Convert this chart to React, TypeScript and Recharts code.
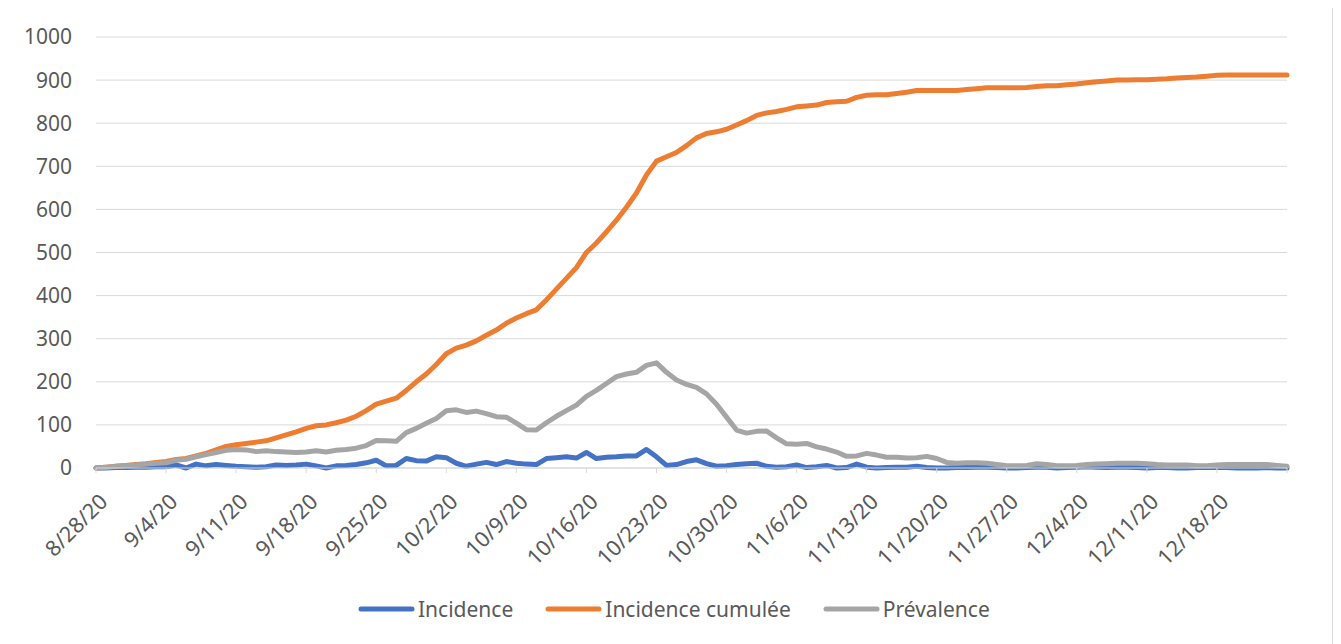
import { LineChart, Line, XAxis, YAxis, CartesianGrid, Legend } from 'recharts';

// Dates (one point per day)
const dates: string[] = [
  '8/28/20', '8/29/20', '8/30/20', '8/31/20',
  '9/1/20', '9/2/20', '9/3/20', '9/4/20', '9/5/20', '9/6/20', '9/7/20', '9/8/20', '9/9/20', '9/10/20',
  '9/11/20', '9/12/20', '9/13/20', '9/14/20', '9/15/20', '9/16/20', '9/17/20', '9/18/20', '9/19/20', '9/20/20',
  '9/21/20', '9/22/20', '9/23/20', '9/24/20', '9/25/20', '9/26/20', '9/27/20', '9/28/20', '9/29/20', '9/30/20',
  '10/1/20', '10/2/20', '10/3/20', '10/4/20', '10/5/20', '10/6/20', '10/7/20', '10/8/20', '10/9/20', '10/10/20',
  '10/11/20', '10/12/20', '10/13/20', '10/14/20', '10/15/20', '10/16/20', '10/17/20', '10/18/20', '10/19/20', '10/20/20',
  '10/21/20', '10/22/20', '10/23/20', '10/24/20', '10/25/20', '10/26/20', '10/27/20', '10/28/20', '10/29/20', '10/30/20',
  '10/31/20',
  '11/1/20', '11/2/20', '11/3/20', '11/4/20', '11/5/20', '11/6/20', '11/7/20', '11/8/20', '11/9/20', '11/10/20',
  '11/11/20', '11/12/20', '11/13/20', '11/14/20', '11/15/20', '11/16/20', '11/17/20', '11/18/20', '11/19/20', '11/20/20',
  '11/21/20', '11/22/20', '11/23/20', '11/24/20', '11/25/20', '11/26/20', '11/27/20', '11/28/20', '11/29/20', '11/30/20',
  '12/1/20', '12/2/20', '12/3/20', '12/4/20', '12/5/20', '12/6/20', '12/7/20', '12/8/20', '12/9/20', '12/10/20',
  '12/11/20', '12/12/20', '12/13/20', '12/14/20', '12/15/20', '12/16/20', '12/17/20', '12/18/20', '12/19/20', '12/20/20',
  '12/21/20', '12/22/20', '12/23/20', '12/24/20', '12/25/20',
];

const incidence: number[] = [
  0, 0, 1, 1, 2, 2, 3, 3, 7, 0,
  9, 5, 8, 6, 4, 3, 2, 3, 7, 6,
  7, 9, 5, 0, 5, 6, 8, 12, 18, 5,
  6, 22, 17, 16, 26, 24, 11, 4, 9, 13,
  8, 15, 11, 9, 8, 22, 24, 26, 23, 36,
  22, 25, 26, 28, 28, 43, 26, 6, 8, 15,
  19, 10, 4, 5, 8, 10, 11, 4, 2, 3,
  7, 1, 3, 6, 0, 1, 9, 2, 0, 1,
  2, 2, 4, 1, 0, 0, 1, 1, 2, 2,
  1, 0, 0, 1, 2, 2, 0, 1, 2, 3,
  2, 1, 2, 2, 1, 0, 1, 1, 0, 0,
  1, 1, 2, 1, 0, 0, 0, 1, 0, 0,
];

const incidenceCumulee: number[] = [
  0, 2, 4, 6, 8, 10, 13, 15, 20, 22,
  28, 34, 42, 50, 54, 57, 60, 63, 70, 77,
  84, 92, 98, 100, 105, 111, 120, 133, 148, 155,
  162, 180, 200, 218, 240, 265, 278, 285, 295, 308,
  320, 336, 348, 358, 367, 390, 415, 440, 465, 500,
  522, 548, 575, 605, 638, 680, 712, 722, 732, 748,
  766, 776, 780, 786, 796, 806, 818, 824, 827, 832,
  838, 840, 842, 848, 850, 851, 860, 865, 866, 866,
  869, 872, 876, 876, 876, 876, 876, 878, 880, 882,
  882, 882, 882, 883, 885, 887, 887, 889, 891, 894,
  896, 898, 900, 900, 901, 901, 902, 903, 905, 906,
  907, 909, 911, 912, 912, 912, 912, 912, 912, 912,
];

const prevalence: number[] = [
  0, 2, 4, 6, 7, 9, 11, 12, 18, 20,
  26, 31, 36, 41, 43, 42, 38, 40, 38, 37,
  36, 37, 40, 37, 41, 43, 46, 52, 64, 63,
  62, 82, 92, 104, 115, 133, 135, 129, 132, 126,
  119, 118, 104, 89, 88, 105, 120, 133, 146, 166,
  180, 196, 212, 218, 222, 238, 244, 222, 204, 194,
  187, 172, 148, 118, 88, 81, 85, 86, 70, 56,
  55, 57, 49, 44, 37, 27, 28, 34, 30, 25,
  25, 23, 24, 27, 22, 13, 11, 12, 12, 11,
  8, 5, 5, 6, 10, 8, 5, 5, 6, 8,
  9, 10, 11, 11, 11, 10, 8, 7, 7, 7,
  5, 5, 7, 8, 8, 8, 8, 8, 6, 4,
];

// labelled ticks, plus a bare tick mark at the end of the axis
const tickLabels: string[] = [
  '8/28/20', '9/4/20', '9/11/20', '9/18/20', '9/25/20', '10/2/20', '10/9/20', '10/16/20', '10/23/20',
  '10/30/20', '11/6/20', '11/13/20', '11/20/20', '11/27/20', '12/4/20', '12/11/20', '12/18/20',
];
const axisEnd = '12/25/20';
const yTicks: number[] = [0, 100, 200, 300, 400, 500, 600, 700, 800, 900, 1000];

const series = [
  { key: 'incidence', name: 'Incidence', color: '#4472C4' },
  { key: 'cumulee', name: 'Incidence cumulée', color: '#ED7D31' },
  { key: 'prevalence', name: 'Prévalence', color: '#A5A5A5' },
];

const data = dates.map((date, i) => ({
  date,
  incidence: incidence[i],
  cumulee: incidenceCumulee[i],
  prevalence: prevalence[i],
}));

const TEXT = '#595959';
const GRID = '#d9d9d9';

function DateTick({ x, y, payload }: any) {
  if (!tickLabels.includes(payload.value)) return <g />;
  const tx = x + 7;
  const ty = y + 22;
  return (
    <text
      x={tx}
      y={ty}
      transform={`rotate(-45, ${tx}, ${ty})`}
      textAnchor="end"
      dominantBaseline="central"
      fill={TEXT}
      fontSize={21.5}
    >
      {payload.value}
    </text>
  );
}

function renderLegend() {
  return (
    <div style={{ display: 'flex', alignItems: 'center', height: 40, paddingLeft: 350 }}>
      {series.map((s) => (
        <div key={s.key} style={{ display: 'flex', alignItems: 'center', marginRight: 32 }}>
          <svg width={57} height={8}>
            <line x1={3} y1={4} x2={54} y2={4} stroke={s.color} strokeWidth={5} strokeLinecap="round" />
          </svg>
          <span style={{ marginLeft: 3, fontSize: 21, color: TEXT, lineHeight: '24px' }}>{s.name}</span>
        </div>
      ))}
    </div>
  );
}

export default function App() {
  return (
    <div
      style={{
        width: 1324,
        height: 640,
        border: `1px solid ${GRID}`,
        margin: '-1px 0 0 -1px',
        background: '#fff',
        fontFamily: '"Noto Sans", sans-serif',
      }}
    >
      <LineChart
        width={1324}
        height={636}
        data={data}
        margin={{ top: 29, right: 45, left: 0, bottom: 15 }}
      >
        <CartesianGrid vertical={false} stroke={GRID} strokeWidth={1} />
        <XAxis
          dataKey="date"
          ticks={[...tickLabels, axisEnd]}
          interval={0}
          height={121}
          tick={<DateTick />}
          tickSize={5}
          tickMargin={2}
          axisLine={{ stroke: GRID }}
          tickLine={{ stroke: GRID }}
        />
        <YAxis
          domain={[0, 1000]}
          ticks={yTicks}
          width={88}
          axisLine={false}
          tickLine={false}
          tickSize={0}
          tickMargin={24}
          tick={{ fill: TEXT, fontSize: 21 }}
        />
        <Legend verticalAlign="bottom" height={40} content={renderLegend} wrapperStyle={{ left: 0, width: 1324 }} />
        {series.map((s) => (
          <Line
            key={s.key}
            type="linear"
            dataKey={s.key}
            name={s.name}
            stroke={s.color}
            strokeWidth={5}
            strokeLinejoin="round"
            strokeLinecap="round"
            dot={false}
            isAnimationActive={false}
          />
        ))}
      </LineChart>
    </div>
  );
}
